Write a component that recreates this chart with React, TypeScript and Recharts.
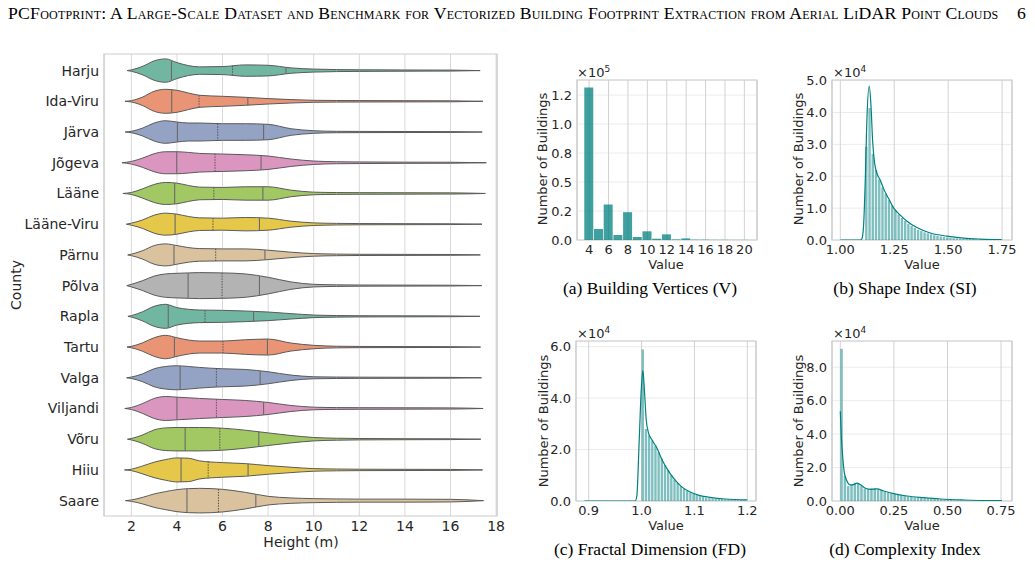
import React from 'react';
import {
  ComposedChart, Area, Bar, Line, XAxis, YAxis, CartesianGrid, ReferenceLine, ReferenceArea,
} from 'recharts';

// ---- violin plot: building height per county ----
const COUNTIES = ['Harju', 'Ida-Viru', 'Järva', 'Jõgeva', 'Lääne', 'Lääne-Viru', 'Pärnu', 'Põlva',
  'Rapla', 'Tartu', 'Valga', 'Viljandi', 'Võru', 'Hiiu', 'Saare'];
const HEIGHT_GRID = [2, 2.5, 3, 3.5, 4, 4.5, 5, 6, 7, 8, 9, 10, 11, 12, 14, 16];
const VIOLIN_START = [1.82, 1.72, 1.73, 1.59, 1.63, 1.78, 1.84, 1.8, 1.85, 1.81, 1.79, 1.71, 1.83, 1.7, 1.74];
const VIOLIN_END = [17.3, 17.42, 17.39, 17.57, 17.53, 17.38, 17.31, 17.37, 17.29, 17.32, 17.36, 17.43, 17.33, 17.41, 17.45];
// relative density (violin half width) at HEIGHT_GRID
const DENSITY = [
  [0.7, 4.3, 9.7, 11.7, 8, 5, 3.7, 4, 5.7, 5.3, 2.7, 1.5, 1.0, 0.8, 0.6, 0.5],
  [0.7, 4.3, 10, 12, 11, 8.3, 6, 5, 4, 2.7, 1.7, 1.0, 0.8, 0.7, 0.6, 0.5],
  [0.7, 4, 9, 11.3, 10, 9, 9, 8.3, 8.3, 7.7, 3.3, 1.3, 0.7, 0.6, 0.5, 0.4],
  [1.3, 4.7, 9, 11, 11, 10.3, 9.3, 8.7, 8, 6.7, 3.7, 1.7, 1.0, 0.8, 0.6, 0.5],
  [1, 4.7, 9, 11, 10.3, 8, 6.3, 6, 6.7, 6.7, 3.3, 1.3, 0.9, 0.8, 0.7, 0.6],
  [1, 4.3, 9, 11, 10, 7.7, 6.3, 6, 6.7, 6, 3, 1.3, 0.8, 0.6, 0.5, 0.4],
  [0.7, 4.3, 9.3, 11, 9.3, 7.3, 6.3, 6, 6, 4.7, 2.7, 1.3, 0.8, 0.6, 0.5, 0.4],
  [1.3, 5, 9.5, 11.7, 12.3, 12.7, 13, 12.7, 11.7, 8.3, 3.7, 1.3, 0.8, 0.6, 0.5, 0.4],
  [0.7, 4.7, 10, 12, 8.7, 7, 6.3, 6, 5.3, 4.3, 2.7, 1.3, 0.8, 0.6, 0.5, 0.4],
  [0.7, 4.3, 9.3, 11.7, 9.3, 7, 6, 6, 7.3, 8, 4, 1.7, 0.8, 0.6, 0.5, 0.4],
  [0.7, 4, 9, 11.3, 12, 11.3, 10.3, 9, 8.3, 6, 2.7, 1, 0.7, 0.6, 0.5, 0.4],
  [1, 5, 10, 12, 11.3, 10.7, 10, 9, 8, 6, 3, 1.3, 0.9, 0.8, 0.7, 0.6],
  [0.7, 4.3, 9.3, 11.3, 11.7, 11.7, 11.7, 11, 9, 6.3, 3.7, 1.7, 1, 0.7, 0.5, 0.4],
  [0.7, 4, 7.7, 10.3, 12, 11.7, 9, 7.3, 6.3, 4.3, 2.7, 1.3, 0.9, 0.7, 0.6, 0.5],
  [0.7, 3.3, 6.7, 9, 11, 12, 12.3, 11.3, 8.3, 4.3, 2.7, 2, 1.7, 1.5, 1.5, 1.3],
];
// Q1, median, Q3
const QUARTILES = [
  [3.76, 6.44, 8.78], [3.77, 4.97, 7.11], [4.02, 5.79, 7.8], [3.99, 5.67, 7.69], [3.9, 5.62, 7.77],
  [3.92, 5.58, 7.62], [3.87, 5.7, 7.86], [4.49, 5.98, 7.62], [3.62, 5.23, 7.36], [3.89, 6.02, 7.97],
  [4.14, 5.73, 7.65], [4.0, 5.73, 7.8], [4.36, 5.88, 7.59], [4.18, 5.37, 7.12], [4.44, 5.82, 7.46],
];
const PALETTE = ['#71b6a1', '#e99575', '#94a3c3', '#db96c0', '#a2c864', '#e5c849', '#dbc29e', '#b3b3b3'];
const HEIGHT_TICKS = [2, 4, 6, 8, 10, 12, 14, 16, 18];
const DENSITY_SCALE = 1 / 30.7;

// ---- (a) building vertices ----
const A_VALUES = [4, 5, 6, 7, 8, 9, 10, 11, 12, 13, 14, 15, 16, 17, 18, 19, 20];
const A_COUNTS = [131500, 9500, 30600, 4300, 24000, 2600, 7500, 1100, 4900, 500, 1400, 300, 300, 150, 150, 100, 100];
const A_X_TICKS = [4, 6, 8, 10, 12, 14, 16, 18, 20];
const A_Y_TICKS = [0, 25000, 50000, 75000, 100000, 125000];
const A_Y_LABELS = ['0.0', '0.2', '0.5', '0.8', '1.0', '1.2'];

// ---- (b) shape index ----
const B_BIN_START = 1.115;
const B_BIN_WIDTH = 0.015;
const B_COUNTS = [29300, 41400, 27000, 22000, 19000, 16500, 14500, 12500, 10800, 9300, 8000, 6900, 6000, 5100,
  4400, 3800, 3200, 2800, 2400, 2100, 1800, 1500, 1300, 1100, 950, 800, 700, 600, 520, 450, 390, 330, 290, 250,
  210, 180, 150, 130, 110, 90, 80, 70, 60];
const B_KDE_X = [1.0, 1.093, 1.1, 1.108, 1.116, 1.123, 1.134, 1.142, 1.15, 1.159, 1.17, 1.185, 1.2, 1.224, 1.247,
  1.278, 1.309, 1.355, 1.417, 1.494, 1.571, 1.648, 1.748];
const B_KDE_Y = [0, 0, 400, 4600, 19400, 37200, 48300, 42500, 30900, 24100, 20900, 18800, 16200, 13000, 10100,
  7800, 5900, 3900, 2200, 1200, 600, 300, 100];
const B_X_TICKS = [1.0, 1.25, 1.5, 1.75];
const B_X_LABELS = ['1.00', '1.25', '1.50', '1.75'];
const B_Y_TICKS = [0, 10000, 20000, 30000, 40000, 50000];
const B_Y_LABELS = ['0.0', '1.0', '2.0', '3.0', '4.0', '5.0'];

// ---- (c) fractal dimension ----
const C_BIN_START = 1.0;
const C_BIN_WIDTH = 0.006;
const C_COUNTS = [58900, 28000, 25500, 23500, 21500, 19000, 16500, 14000, 12000, 10000, 8400, 7000, 5800, 4800,
  4000, 3300, 2800, 2300, 1900, 1600, 1300, 1100, 1000, 900, 800, 720, 650, 580, 520, 470, 420, 380, 340];
const C_KDE_X = [0.892, 0.988, 0.991, 0.9956, 0.9994, 1.0025, 1.0057, 1.0088, 1.0132, 1.0195, 1.029, 1.0384,
  1.051, 1.0635, 1.076, 1.0918, 1.1075, 1.1264, 1.158, 1.2];
const C_KDE_Y = [0, 0, 1900, 23800, 43200, 50700, 41900, 31600, 26400, 23800, 20600, 16100, 11600, 8100, 5500,
  3500, 2300, 1500, 770, 400];
const C_X_TICKS = [0.9, 1.0, 1.1, 1.2];
const C_X_LABELS = ['0.9', '1.0', '1.1', '1.2'];
const C_Y_TICKS = [0, 20000, 40000, 60000];
const C_Y_LABELS = ['0.0', '2.0', '4.0', '6.0'];

// ---- (d) complexity index ----
const D_BIN_START = 0;
const D_BIN_WIDTH = 0.0155;
const D_COUNTS = [91000, 14900, 8900, 9900, 10900, 10500, 8900, 7400, 7400, 7600, 7600, 7000, 6400, 5600, 5000,
  4600, 4200, 3800, 3400, 3100, 2800, 2500, 2200, 2100, 1900, 1700, 1550, 1400, 1250, 1100, 950, 820, 700, 600,
  520, 450, 400, 350, 310, 270, 240, 210, 180, 160, 140, 120, 100, 80, 60];
const D_KDE_X = [0, 0.0047, 0.011, 0.0187, 0.031, 0.0467, 0.062, 0.0778, 0.0933, 0.117, 0.14, 0.171, 0.202,
  0.249, 0.311, 0.389, 0.467, 0.575, 0.754];
const D_KDE_Y = [53700, 38800, 26900, 17000, 12000, 9600, 9800, 10700, 9800, 7600, 7000, 7200, 6000, 4400, 3000,
  2000, 1200, 600, 200];
const D_X_TICKS = [0, 0.25, 0.5, 0.75];
const D_X_LABELS = ['0.00', '0.25', '0.50', '0.75'];
const D_Y_TICKS = [0, 20000, 40000, 60000, 80000];
const D_Y_LABELS = ['0.0', '2.0', '4.0', '6.0', '8.0'];

const TEXT = '#262626';
const TEAL = '#008080';

// build the range rows for the violins (null where a county has no point)
const violinXs = Array.from(new Set([...VIOLIN_START, ...HEIGHT_GRID, ...VIOLIN_END])).sort((a, b) => a - b);
const violinData = violinXs.map((x) => {
  const row: Record<string, any> = { x };
  COUNTIES.forEach((_, i) => {
    const k = HEIGHT_GRID.indexOf(x);
    if (x === VIOLIN_START[i] || x === VIOLIN_END[i]) row['c' + i] = [i, i];
    else if (k >= 0 && x > VIOLIN_START[i] && x < VIOLIN_END[i]) {
      const w = DENSITY[i][k] * DENSITY_SCALE;
      row['c' + i] = [i - w, i + w];
    } else row['c' + i] = [null, null];
  });
  return row;
});

const halfWidthAt = (i: number, q: number) => {
  for (let k = 0; k < HEIGHT_GRID.length - 1; k++) {
    const a = HEIGHT_GRID[k], b = HEIGHT_GRID[k + 1];
    if (q >= a && q <= b) {
      const t = (q - a) / (b - a);
      return (DENSITY[i][k] * (1 - t) + DENSITY[i][k + 1] * t) * DENSITY_SCALE;
    }
  }
  return 0;
};

const binRows = (start: number, width: number, counts: number[]) =>
  counts.map((count, k) => ({ x: start + width * (k + 0.5), count }));
const kdeRows = (xs: number[], ys: number[]) => xs.map((x, k) => ({ x, density: ys[k] }));

const ViolinPanel = () => (
  <ComposedChart width={510} height={565} data={violinData} margin={{ top: 54, right: 13, bottom: 19, left: 10 }}>
    <CartesianGrid horizontal={false} stroke="#d9d9d9" />
    <XAxis type="number" dataKey="x" domain={[0.8, 18.04]} ticks={HEIGHT_TICKS} interval={0} allowDataOverflow
      height={30} tickSize={0} tickMargin={5} axisLine={false} tick={{ fill: TEXT, fontSize: 14 }} />
    <YAxis type="number" domain={[-0.54, 14.5]} reversed ticks={COUNTIES.map((_, i) => i)} interval={0}
      tickFormatter={(v: number) => COUNTIES[v]} width={94} tickSize={0} tickMargin={5} axisLine={false}
      allowDataOverflow tick={{ fill: TEXT, fontSize: 14 }} />
    {COUNTIES.map((c, i) => (
      <Area key={c} dataKey={'c' + i} type="monotone" fill={PALETTE[i % PALETTE.length]} fillOpacity={1}
        stroke="#5a5a5a" strokeWidth={1} connectNulls dot={false} activeDot={false} isAnimationActive={false} />
    ))}
    {COUNTIES.map((c, i) => QUARTILES[i].map((q, j) => {
      const w = halfWidthAt(i, q);
      return (
        <ReferenceLine key={c + j} segment={[{ x: q, y: i - w }, { x: q, y: i + w }]}
          stroke={j === 1 ? '#555' : '#6a6a6a'} strokeWidth={j === 1 ? 1 : 1.1}
          strokeDasharray={j === 1 ? '1.5 1.2' : undefined} ifOverflow="visible" />
      );
    }))}
    <ReferenceArea x1={0.8} x2={18.04} y1={-0.54} y2={14.5} fill="none" stroke="#cccccc" strokeWidth={1.2}
      ifOverflow="visible" />
  </ComposedChart>
);

type HistProps = {
  left: number; top: number; bars: { x: number; count: number }[]; kde?: { x: number; density: number }[];
  xDomain: [number, number]; xTicks: number[]; xLabels: string[]; yDomain: [number, number];
  yTicks: number[]; yLabels: string[]; barSize: number; opacity: number;
};

const Hist = ({ left, top, bars, kde, xDomain, xTicks, xLabels, yDomain, yTicks, yLabels, barSize, opacity }: HistProps) => (
  <div style={{ position: 'absolute', left, top }}>
    <ComposedChart width={235} height={190} data={bars} margin={{ top: 10, right: 10, bottom: 0, left: 0 }}>
      <CartesianGrid vertical={false} stroke="#ececec" />
      <CartesianGrid horizontal={false} stroke="#d2d2d2" />
      <XAxis type="number" dataKey="x" domain={xDomain} ticks={xTicks} interval={0} allowDataOverflow
        tickFormatter={(v: number) => xLabels[xTicks.indexOf(v)]} height={20} tickSize={0} tickMargin={5}
        axisLine={false} tick={{ fill: TEXT, fontSize: 13 }} />
      {/* separate hidden axis for the KDE line so its points don't shrink the bar band */}
      <XAxis xAxisId="kde" type="number" dataKey="x" domain={xDomain} allowDataOverflow hide />
      <YAxis type="number" domain={yDomain} ticks={yTicks} interval={0} allowDataOverflow
        tickFormatter={(v: number) => yLabels[yTicks.indexOf(v)]} width={45} tickSize={0} tickMargin={5}
        axisLine={false} tick={{ fill: TEXT, fontSize: 13 }} />
      <Bar dataKey="count" fill={TEAL} fillOpacity={opacity} barSize={barSize} isAnimationActive={false} />
      {kde && (
        <Line xAxisId="kde" data={kde} dataKey="density" type="monotone" stroke={TEAL} strokeWidth={1.2} dot={false}
          activeDot={false} isAnimationActive={false} />
      )}
      <ReferenceArea x1={xDomain[0]} x2={xDomain[1]} y1={yDomain[0]} y2={yDomain[1]} fill="none"
        stroke="#cccccc" strokeWidth={1.2} ifOverflow="visible" />
    </ComposedChart>
  </div>
);

const abs = (left: number, top: number, extra: React.CSSProperties = {}): React.CSSProperties => ({
  position: 'absolute', left, top, whiteSpace: 'nowrap', ...extra,
});

const Exp = ({ left, top, p }: { left: number; top: number; p: string }) => (
  <div style={abs(left, top, { fontSize: 13, lineHeight: '13px', color: TEXT })}>
    ×10<span style={{ fontSize: 9, position: 'relative', top: -5 }}>{p}</span>
  </div>
);

const YTitle = ({ cx, cy, text, size }: { cx: number; cy: number; text: string; size: number }) => (
  <div style={abs(cx, cy, { fontSize: size, lineHeight: 1, color: TEXT, transform: 'translate(-50%, -50%) rotate(-90deg)' })}>
    {text}
  </div>
);

const CText = ({ cx, cy, text, size, serif }: { cx: number; cy: number; text: string; size: number; serif?: boolean }) => (
  <div style={abs(cx, cy, {
    fontSize: size, lineHeight: 1, color: serif ? '#000' : TEXT, transform: 'translate(-50%, -50%)',
    fontFamily: serif ? '"Liberation Serif", serif' : undefined,
  })}>
    {text}
  </div>
);

export default function App() {
  return (
    <div style={{ position: 'absolute', left: 0, top: 0, width: 1035, height: 565, background: '#fff',
      fontFamily: '"DejaVu Sans", sans-serif', overflow: 'hidden' }}>
      <div style={abs(8, 3, { fontFamily: '"Liberation Serif", serif', fontSize: 17.7, letterSpacing: 0.22,
        fontVariant: 'small-caps', color: '#000' })}>
        PCFootprint: A Large-Scale Dataset and Benchmark for Vectorized Building Footprint Extraction from Aerial LiDAR Point Clouds
      </div>
      <div style={abs(1017, 3, { fontFamily: '"Liberation Serif", serif', fontSize: 17.7, color: '#000' })}>6</div>

      <div style={{ position: 'absolute', left: 0, top: 0 }}>
        <ViolinPanel />
      </div>
      <YTitle cx={16} cy={285} text="County" size={14} />
      <CText cx={301} cy={542} text="Height (m)" size={14} />

      <Hist left={532} top={70} bars={A_VALUES.map((x, k) => ({ x, count: A_COUNTS[k] }))}
        xDomain={[2.75, 21.3]} xTicks={A_X_TICKS} xLabels={A_X_TICKS.map(String)} yDomain={[0, 138000]}
        yTicks={A_Y_TICKS} yLabels={A_Y_LABELS} barSize={9} opacity={0.75} />
      <Hist left={787} top={70} bars={binRows(B_BIN_START, B_BIN_WIDTH, B_COUNTS)} kde={kdeRows(B_KDE_X, B_KDE_Y)}
        xDomain={[0.9615, 1.796]} xTicks={B_X_TICKS} xLabels={B_X_LABELS} yDomain={[0, 50200]}
        yTicks={B_Y_TICKS} yLabels={B_Y_LABELS} barSize={2.4} opacity={0.5} />
      <Hist left={531} top={331} bars={binRows(C_BIN_START, C_BIN_WIDTH, C_COUNTS)} kde={kdeRows(C_KDE_X, C_KDE_Y)}
        xDomain={[0.876, 1.2164]} xTicks={C_X_TICKS} xLabels={C_X_LABELS} yDomain={[0, 62200]}
        yTicks={C_Y_TICKS} yLabels={C_Y_LABELS} barSize={2.4} opacity={0.5} />
      <Hist left={787} top={331} bars={binRows(D_BIN_START, D_BIN_WIDTH, D_COUNTS)} kde={kdeRows(D_KDE_X, D_KDE_Y)}
        xDomain={[-0.0387, 0.801]} xTicks={D_X_TICKS} xLabels={D_X_LABELS} yDomain={[0, 95700]}
        yTicks={D_Y_TICKS} yLabels={D_Y_LABELS} barSize={2.5} opacity={0.5} />

      <Exp left={577} top={66} p="5" />
      <Exp left={833} top={66} p="4" />
      <Exp left={577} top={327} p="4" />
      <Exp left={833} top={327} p="4" />

      <YTitle cx={542} cy={159} text="Number of Buildings" size={13} />
      <YTitle cx={798} cy={159} text="Number of Buildings" size={13} />
      <YTitle cx={543} cy={421} text="Number of Buildings" size={13} />
      <YTitle cx={798} cy={421} text="Number of Buildings" size={13} />

      <CText cx={666} cy={264} text="Value" size={13} />
      <CText cx={922} cy={264} text="Value" size={13} />
      <CText cx={666} cy={525} text="Value" size={13} />
      <CText cx={922} cy={525} text="Value" size={13} />

      <CText cx={650} cy={289} text="(a) Building Vertices (V)" size={17.5} serif />
      <CText cx={905} cy={289} text="(b) Shape Index (SI)" size={17.5} serif />
      <CText cx={650} cy={550} text="(c) Fractal Dimension (FD)" size={17.5} serif />
      <CText cx={905} cy={550} text="(d) Complexity Index" size={17.5} serif />
    </div>
  );
}
